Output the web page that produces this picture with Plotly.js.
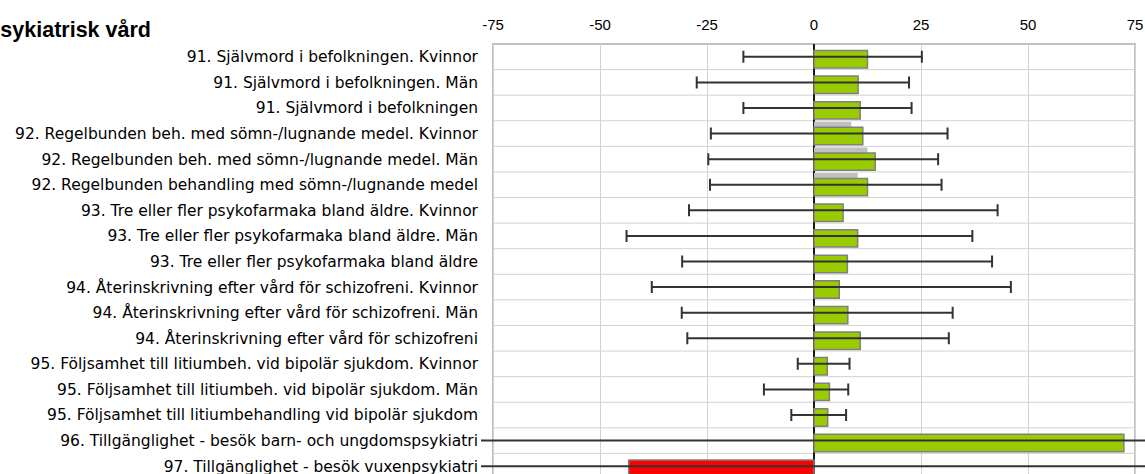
<!DOCTYPE html>
<html><head><meta charset="utf-8">
<script src="https://cdn.plot.ly/plotly-3.0.1.min.js"></script>
<style>
html,body{margin:0;padding:0;overflow:hidden;background:#fff;}
#chart{position:absolute;left:-14px;top:0;width:1165px;height:482px;}
</style>
</head><body><div id="chart"></div>
<script>
const categories = [
  "91. Självmord i befolkningen. Kvinnor",
  "91. Självmord i befolkningen. Män",
  "91. Självmord i befolkningen",
  "92. Regelbunden beh. med sömn-/lugnande medel. Kvinnor",
  "92. Regelbunden beh. med sömn-/lugnande medel. Män",
  "92. Regelbunden behandling med sömn-/lugnande medel",
  "93. Tre eller fler psykofarmaka bland äldre. Kvinnor",
  "93. Tre eller fler psykofarmaka bland äldre. Män",
  "93. Tre eller fler psykofarmaka bland äldre",
  "94. Återinskrivning efter vård för schizofreni. Kvinnor",
  "94. Återinskrivning efter vård för schizofreni. Män",
  "94. Återinskrivning efter vård för schizofreni",
  "95. Följsamhet till litiumbeh. vid bipolär sjukdom. Kvinnor",
  "95. Följsamhet till litiumbeh. vid bipolär sjukdom. Män",
  "95. Följsamhet till litiumbehandling vid bipolär sjukdom",
  "96. Tillgänglighet - besök barn- och ungdomspsykiatri",
  "97. Tillgänglighet - besök vuxenpsykiatri"
];
const values    = [12.5, 10.3, 10.8, 11.4, 14.3, 12.5, 6.8, 10.2, 7.8, 5.9, 7.9, 10.8, 3.1, 3.6, 3.2, 72.4, -43.3];
const refValues = [null, null, null, 8.7, 12.5, 10.2, null, null, null, null, null, null, null, null, null, null, null];
const ciLow     = [-16.5, -27.4, -16.5, -24.1, -24.7, -24.3, -29.2, -43.8, -30.8, -37.9, -30.9, -29.6, -3.8, -11.7, -5.3, -80, -80];
const ciHigh    = [25.2, 22.2, 22.8, 31.2, 29.0, 29.8, 42.9, 37.0, 41.6, 46.0, 32.4, 31.5, 8.3, 8.0, 7.5, 80, 80];
const xTicks    = [-75, -50, -25, 0, 25, 50, 75];
const chartTitle = "Psykiatrisk vård";

const xMin = xTicks[0], xMax = xTicks[xTicks.length - 1];
// plot area is a little wider than the framed box, so that over-long intervals run past the frame
const framePadPx = 12, frameWidthPx = 642;
const padUnits = framePadPx * (xMax - xMin) / frameWidthPx;
const inRange = categories.map((c, i) => ciLow[i] >= xMin && ciHigh[i] <= xMax);
const keepIdx = keep => categories.map((c, i) => i).filter(i => inRange[i] === keep);

function errTrace(keep, capWidth) {
  const idx = keepIdx(keep);
  return {
    type: 'scatter', mode: 'markers',
    y: idx.map(i => categories[i]), x: idx.map(i => values[i]),
    marker: { opacity: 0, size: 1 },
    error_x: { type: 'data', symmetric: false,
      array: idx.map(i => ciHigh[i] - values[i]),
      arrayminus: idx.map(i => values[i] - ciLow[i]),
      color: '#333333', thickness: 2, width: capWidth },
    hoverinfo: 'skip', showlegend: false
  };
}

const barWidth = 0.68;
const traces = [
  { type: 'bar', orientation: 'h', y: categories, x: refValues,
    width: barWidth, offset: -0.46,
    marker: { color: '#c0c0c0', line: { width: 0 } }, hoverinfo: 'skip', showlegend: false },
  { type: 'bar', orientation: 'h', y: categories, x: values,
    width: barWidth, offset: -0.245,
    marker: { color: values.map(v => v < 0 ? '#ff0000' : '#99cc00'),
              line: { color: '#7f7f7f', width: 1.5 } }, hoverinfo: 'skip', showlegend: false },
  errTrace(true, 6),
  errTrace(false, 0)
];

const gridColor = '#d2d2d2';
const shapes = [];
for (let i = 1; i < categories.length; i++) {
  shapes.push({ type: 'line', layer: 'below', xref: 'x', yref: 'y',
    x0: xMin, x1: xMax, y0: i - 0.5, y1: i - 0.5,
    line: { color: gridColor, width: 1 } });
}
shapes.push({ type: 'rect', layer: 'below', xref: 'x', yref: 'paper',
  x0: xMin, x1: xMax, y0: 0, y1: 1,
  line: { color: '#c0c0c0', width: 2 }, fillcolor: 'rgba(0,0,0,0)' });

const layout = {
  width: 1165, height: 482,
  margin: { l: 495, r: 4, t: 44, b: 3, pad: 0 },
  paper_bgcolor: '#ffffff', plot_bgcolor: '#ffffff',
  barmode: 'overlay',
  showlegend: false,
  title: { text: '<b>' + chartTitle + '</b>', xref: 'container', x: 0, xanchor: 'left',
           yref: 'container', y: 1 - 29 / 482, yanchor: 'middle',
           font: { family: 'Liberation Sans, Arial, sans-serif', size: 21.5, color: '#000' } },
  xaxis: {
    side: 'top', range: [xMin - padUnits, xMax + padUnits], tickvals: xTicks, ticktext: xTicks.map(String),
    ticks: '', ticklabelstandoff: 10,
    tickfont: { family: 'Liberation Sans, Arial, sans-serif', size: 15, color: '#000' },
    showgrid: true, gridcolor: gridColor, gridwidth: 1,
    zeroline: true, zerolinecolor: '#1a1a1a', zerolinewidth: 1.5,
    showline: false,
    layer: 'above traces', fixedrange: true
  },
  yaxis: {
    type: 'category', range: [categories.length - 0.5, -0.5],
    ticks: '', ticklabelstandoff: 2,
    tickfont: { family: 'DejaVu Sans, sans-serif', size: 15.5, color: '#000' },
    showgrid: false, zeroline: false, showline: false,
    fixedrange: true
  },
  shapes: shapes
};

Plotly.newPlot('chart', traces, layout, { displayModeBar: false, staticPlot: true });
</script>
</body></html>
